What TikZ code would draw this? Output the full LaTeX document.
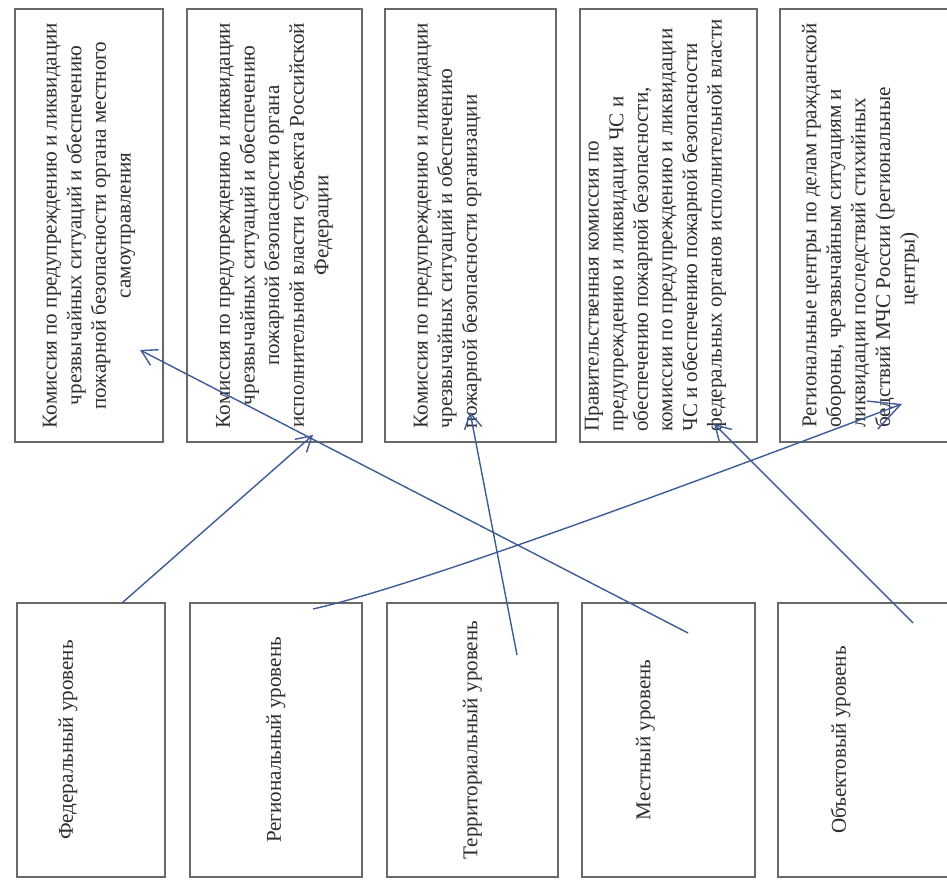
\documentclass[tikz,border=0pt]{standalone}
\usepackage{fontspec}
\setmainfont{Liberation Serif}
\usetikzlibrary{arrows.meta, positioning, calc}
\definecolor{frameGray}{RGB}{105,105,105}
\definecolor{inkBlue}{RGB}{62,92,150}
\definecolor{printGray}{RGB}{45,45,45}

\begin{document}
\begin{tikzpicture}[
        x=0.02cm, y=-0.02cm,
        comBox/.style={rectangle, draw=frameGray, line width=1pt, minimum height=8.66cm, inner sep=0pt},
        levelBox/.style={rectangle, draw=frameGray, line width=1pt, minimum height=5.48cm, inner sep=0pt},
        boxText/.style={rotate=90, text=printGray, align=center, inner sep=0pt, font=\fontsize{12}{14}\selectfont},
        inkArrow/.style={draw=inkBlue, line width=0.8pt, -{Straight Barb[length=3mm, width=3.5mm]}}
    ]
        \clip (0,0) rectangle (947,888);
        \fill[white] (0,0) rectangle (947,888);

        % commissions (top row)
        \node[comBox, minimum width=2.96cm] (localCom) at (89,225.5) {};
        \node[comBox, minimum width=3.50cm] (regCom) at (274.5,225.5) {};
        \node[comBox, minimum width=3.42cm] (orgCom) at (470.5,225.5) {};
        \node[comBox, minimum width=3.54cm] (govCom) at (668.5,225.5) {};
        \node[comBox, minimum width=3.50cm] (rCenter) at (867.5,225.5) {};

        \node[boxText] (localComText) at (localCom) {Комиссия по предупреждению и ликвидации\\ чрезвычайных ситуаций и обеспечению\\ пожарной безопасности органа местного\\ самоуправления};
        \node[boxText] (regComText) at (regCom) {Комиссия по предупреждению и ликвидации\\ чрезвычайных ситуаций и обеспечению\\ пожарной безопасности органа\\ исполнительной власти субъекта Российской\\ Федерации};
        \node[boxText, align=left] (orgComText) at ($(orgCom)+(-23,0)$) {Комиссия по предупреждению и ликвидации\\ чрезвычайных ситуаций и обеспечению\\ пожарной безопасности организации};
        \node[boxText, align=left] (govComText) at ($(govCom)+(-13,0)$) {Правительственная комиссия по\\ предупреждению и ликвидации ЧС и\\ обеспечению пожарной безопасности,\\ комиссии по предупреждению и ликвидации\\ ЧС и обеспечению пожарной безопасности\\ федеральных органов исполнительной власти};
        \node[boxText, align=left] (rCenterText) at ($(rCenter)+(-7,0)$) {Региональные центры по делам гражданской\\ обороны, чрезвычайным ситуациям и\\ ликвидации последствий стихийных\\ бедствий МЧС России (региональные\\ \hspace*{5.8em}центры)};

        % levels (bottom row)
        \node[levelBox, minimum width=2.96cm] (fedLvl) at (91,740) {};
        \node[levelBox, minimum width=3.44cm] (regLvl) at (276,740) {};
        \node[levelBox, minimum width=3.42cm] (terLvl) at (472.5,740) {};
        \node[levelBox, minimum width=3.46cm] (locLvl) at (668.5,740) {};
        \node[levelBox, minimum width=3.54cm] (objLvl) at (866.5,740) {};

        \node[boxText] (fedLvlText) at ($(fedLvl)+(-23,0)$) {Федеральный уровень};
        \node[boxText] (regLvlText) at (regLvl) {Региональный уровень};
        \node[boxText] (terLvlText) at (terLvl) {Территориальный уровень};
        \node[boxText] (locLvlText) at ($(locLvl)+(-23,0)$) {Местный уровень};
        \node[boxText] (objLvlText) at ($(objLvl)+(-26,0)$) {Объектовый уровень};

        % hand-drawn links
        \coordinate (fedFrom) at (122,603);
        \coordinate (regFrom) at (313,609);
        \coordinate (terFrom) at (517,655);
        \coordinate (locFrom) at (688,633);
        \coordinate (objFrom) at (913,623);
        \coordinate (regComTo) at (313,435);
        \coordinate (rCenterTo) at (902,404);
        \coordinate (orgComTo) at (470,412);
        \coordinate (localComTo) at (140,350);
        \coordinate (govComTo) at (714,424);

        \draw[inkArrow] (fedFrom) -- (regComTo);
        \draw[inkArrow, -{Straight Barb[length=6mm, width=6mm]}] (regFrom) .. controls (420,585) and (700,480) .. (rCenterTo);
        \draw[inkArrow] (terFrom) -- (orgComTo);
        \draw[inkArrow] (locFrom) -- (localComTo);
        \draw[inkArrow] (objFrom) -- (govComTo);
    \end{tikzpicture}
\end{document}
